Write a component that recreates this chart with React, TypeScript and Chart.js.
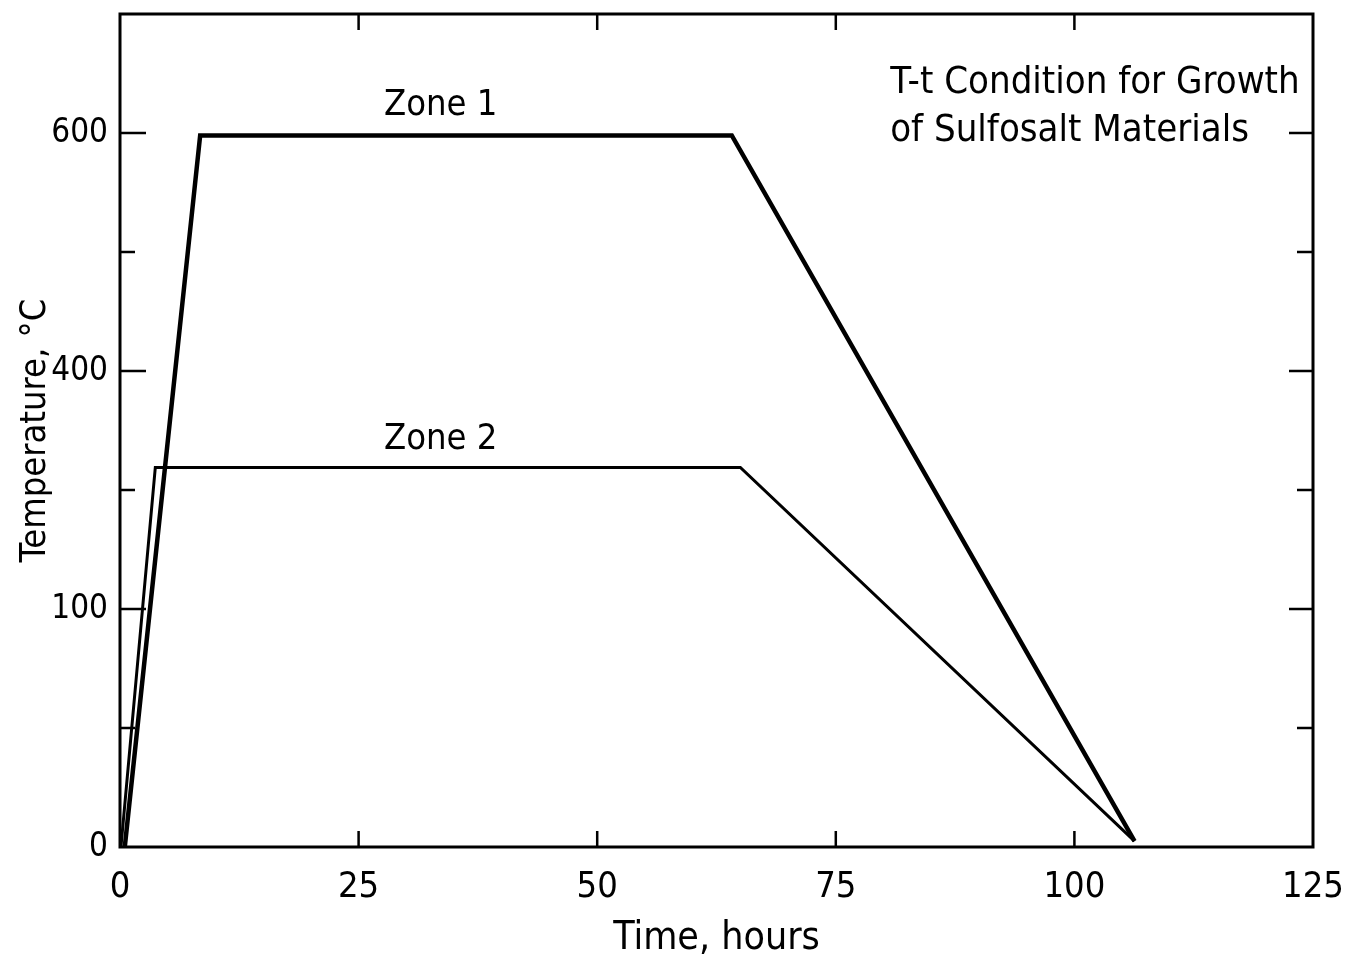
import React, { useEffect, useRef } from "react";
import { Chart, registerables } from "chart.js";

Chart.register(...registerables);

// ---- data ----
const zone1Hours = [0.5, 8.4, 64.1, 106.3];
const zone1Temps = [0, 598, 598, 5];
const zone2Hours = [0.1, 3.7, 65.0, 106.3];
const zone2Temps = [0, 319, 319, 5];

const xTickValues = [0, 25, 50, 75, 100, 125];
const xTickLabels = ["0", "25", "50", "75", "100", "125"];
const yTickValues = [0, 200, 400, 600];
const yTickLabels = ["0", "100", "400", "600"];
const yMinorTicks = [100, 300, 500];
const xInnerTicks = [25, 50, 75, 100];
const yInnerTicks = [200, 400, 600];

const xTitle = "Time, hours";
const yTitle = "Temperature, \u00B0C";
const zoneLabels = ["Zone 1", "Zone 2"];
const noteLines = ["T-t Condition for Growth", "of Sulfosalt Materials"];

const FONT = "'DejaVu Sans Condensed', 'DejaVu Sans', sans-serif";

const frameAndTextPlugin = {
  id: "frameAndText",
  afterDatasetsDraw(chart: any) {
    const { ctx, chartArea, scales } = chart;
    const xs = scales.x;
    const ys = scales.y;
    const { left, right, top, bottom } = chartArea;
    ctx.save();
    ctx.strokeStyle = "#000";
    ctx.lineWidth = 3;
    ctx.strokeRect(left, top, right - left, bottom - top);
    ctx.lineWidth = 2.5;
    ctx.beginPath();
    xInnerTicks.forEach((v) => {
      const px = xs.getPixelForValue(v);
      ctx.moveTo(px, bottom);
      ctx.lineTo(px, bottom - 16);
      ctx.moveTo(px, top);
      ctx.lineTo(px, top + 16);
    });
    yInnerTicks.forEach((v) => {
      const py = ys.getPixelForValue(v);
      ctx.moveTo(left, py);
      ctx.lineTo(left + 26, py);
      ctx.moveTo(right, py);
      ctx.lineTo(right - 24, py);
    });
    yMinorTicks.forEach((v) => {
      const py = ys.getPixelForValue(v);
      ctx.moveTo(left, py);
      ctx.lineTo(left + 15, py);
      ctx.moveTo(right, py);
      ctx.lineTo(right - 16, py);
    });
    ctx.stroke();

    ctx.fillStyle = "#000";
    ctx.textBaseline = "middle";
    ctx.textAlign = "center";
    ctx.font = `36px ${FONT}`;
    ctx.fillText(zoneLabels[0], xs.getPixelForValue(33.6), ys.getPixelForValue(623));
    ctx.fillText(zoneLabels[1], xs.getPixelForValue(33.6), ys.getPixelForValue(342));
    ctx.textAlign = "left";
    ctx.font = `38px ${FONT}`;
    ctx.fillText(noteLines[0], xs.getPixelForValue(80.7), ys.getPixelForValue(642));
    ctx.fillText(noteLines[1], xs.getPixelForValue(80.7), ys.getPixelForValue(601.5));
    ctx.restore();
  },
};

export default function App() {
  const canvasRef = useRef<HTMLCanvasElement | null>(null);

  useEffect(() => {
    document.body.style.margin = "0";
    const canvas = canvasRef.current;
    if (!canvas) return;
    const chart = new Chart(canvas, {
      type: "line",
      data: {
        datasets: [
          {
            label: zoneLabels[0],
            data: zone1Hours.map((x, i) => ({ x, y: zone1Temps[i] })),
            borderColor: "#000",
            borderWidth: 4.5,
            pointRadius: 0,
            fill: false,
            tension: 0,
          },
          {
            label: zoneLabels[1],
            data: zone2Hours.map((x, i) => ({ x, y: zone2Temps[i] })),
            borderColor: "#000",
            borderWidth: 3,
            pointRadius: 0,
            fill: false,
            tension: 0,
          },
        ],
      },
      options: {
        animation: false,
        responsive: true,
        maintainAspectRatio: false,
        layout: { padding: { left: 0, top: 14, right: 44, bottom: 0 } },
        plugins: { legend: { display: false }, tooltip: { enabled: false } },
        scales: {
          x: {
            type: "linear",
            min: 0,
            max: 125,
            border: { display: false },
            grid: { display: false, drawTicks: false },
            afterBuildTicks: (scale: any) => {
              scale.ticks = xTickValues.map((v) => ({ value: v }));
            },
            afterFit: (scale: any) => {
              scale.height = 119;
              scale.paddingLeft = 0;
              scale.paddingRight = 0;
            },
            ticks: {
              color: "#000",
              padding: 19,
              maxRotation: 0,
              autoSkip: false,
              font: { family: FONT, size: 36 },
              callback: (v: any) => {
                const i = xTickValues.indexOf(Number(v));
                return i >= 0 ? xTickLabels[i] : "";
              },
            },
            title: {
              display: true,
              text: xTitle,
              color: "#000",
              font: { family: FONT, size: 39 },
              padding: { top: 0, bottom: 4 },
            },
          },
          y: {
            type: "linear",
            min: 0,
            max: 700,
            border: { display: false },
            grid: { display: false, drawTicks: false },
            afterBuildTicks: (scale: any) => {
              scale.ticks = yTickValues.map((v) => ({ value: v }));
            },
            afterFit: (scale: any) => {
              scale.width = 120;
              scale.paddingTop = 0;
              scale.paddingBottom = 0;
            },
            ticks: {
              color: "#000",
              padding: 12,
              autoSkip: false,
              font: { family: FONT, size: 33 },
              callback: (v: any) => {
                const i = yTickValues.indexOf(Number(v));
                return i >= 0 ? yTickLabels[i] : "";
              },
            },
            title: {
              display: true,
              text: yTitle,
              color: "#000",
              font: { family: FONT, size: 36 },
              padding: { top: 14, bottom: 0 },
            },
          },
        },
      },
      plugins: [frameAndTextPlugin],
    } as any);
    return () => chart.destroy();
  }, []);

  return (
    <div style={{ position: "fixed", left: 0, top: 0, width: 1357, height: 966, background: "#fff" }}>
      <canvas ref={canvasRef} />
    </div>
  );
}
